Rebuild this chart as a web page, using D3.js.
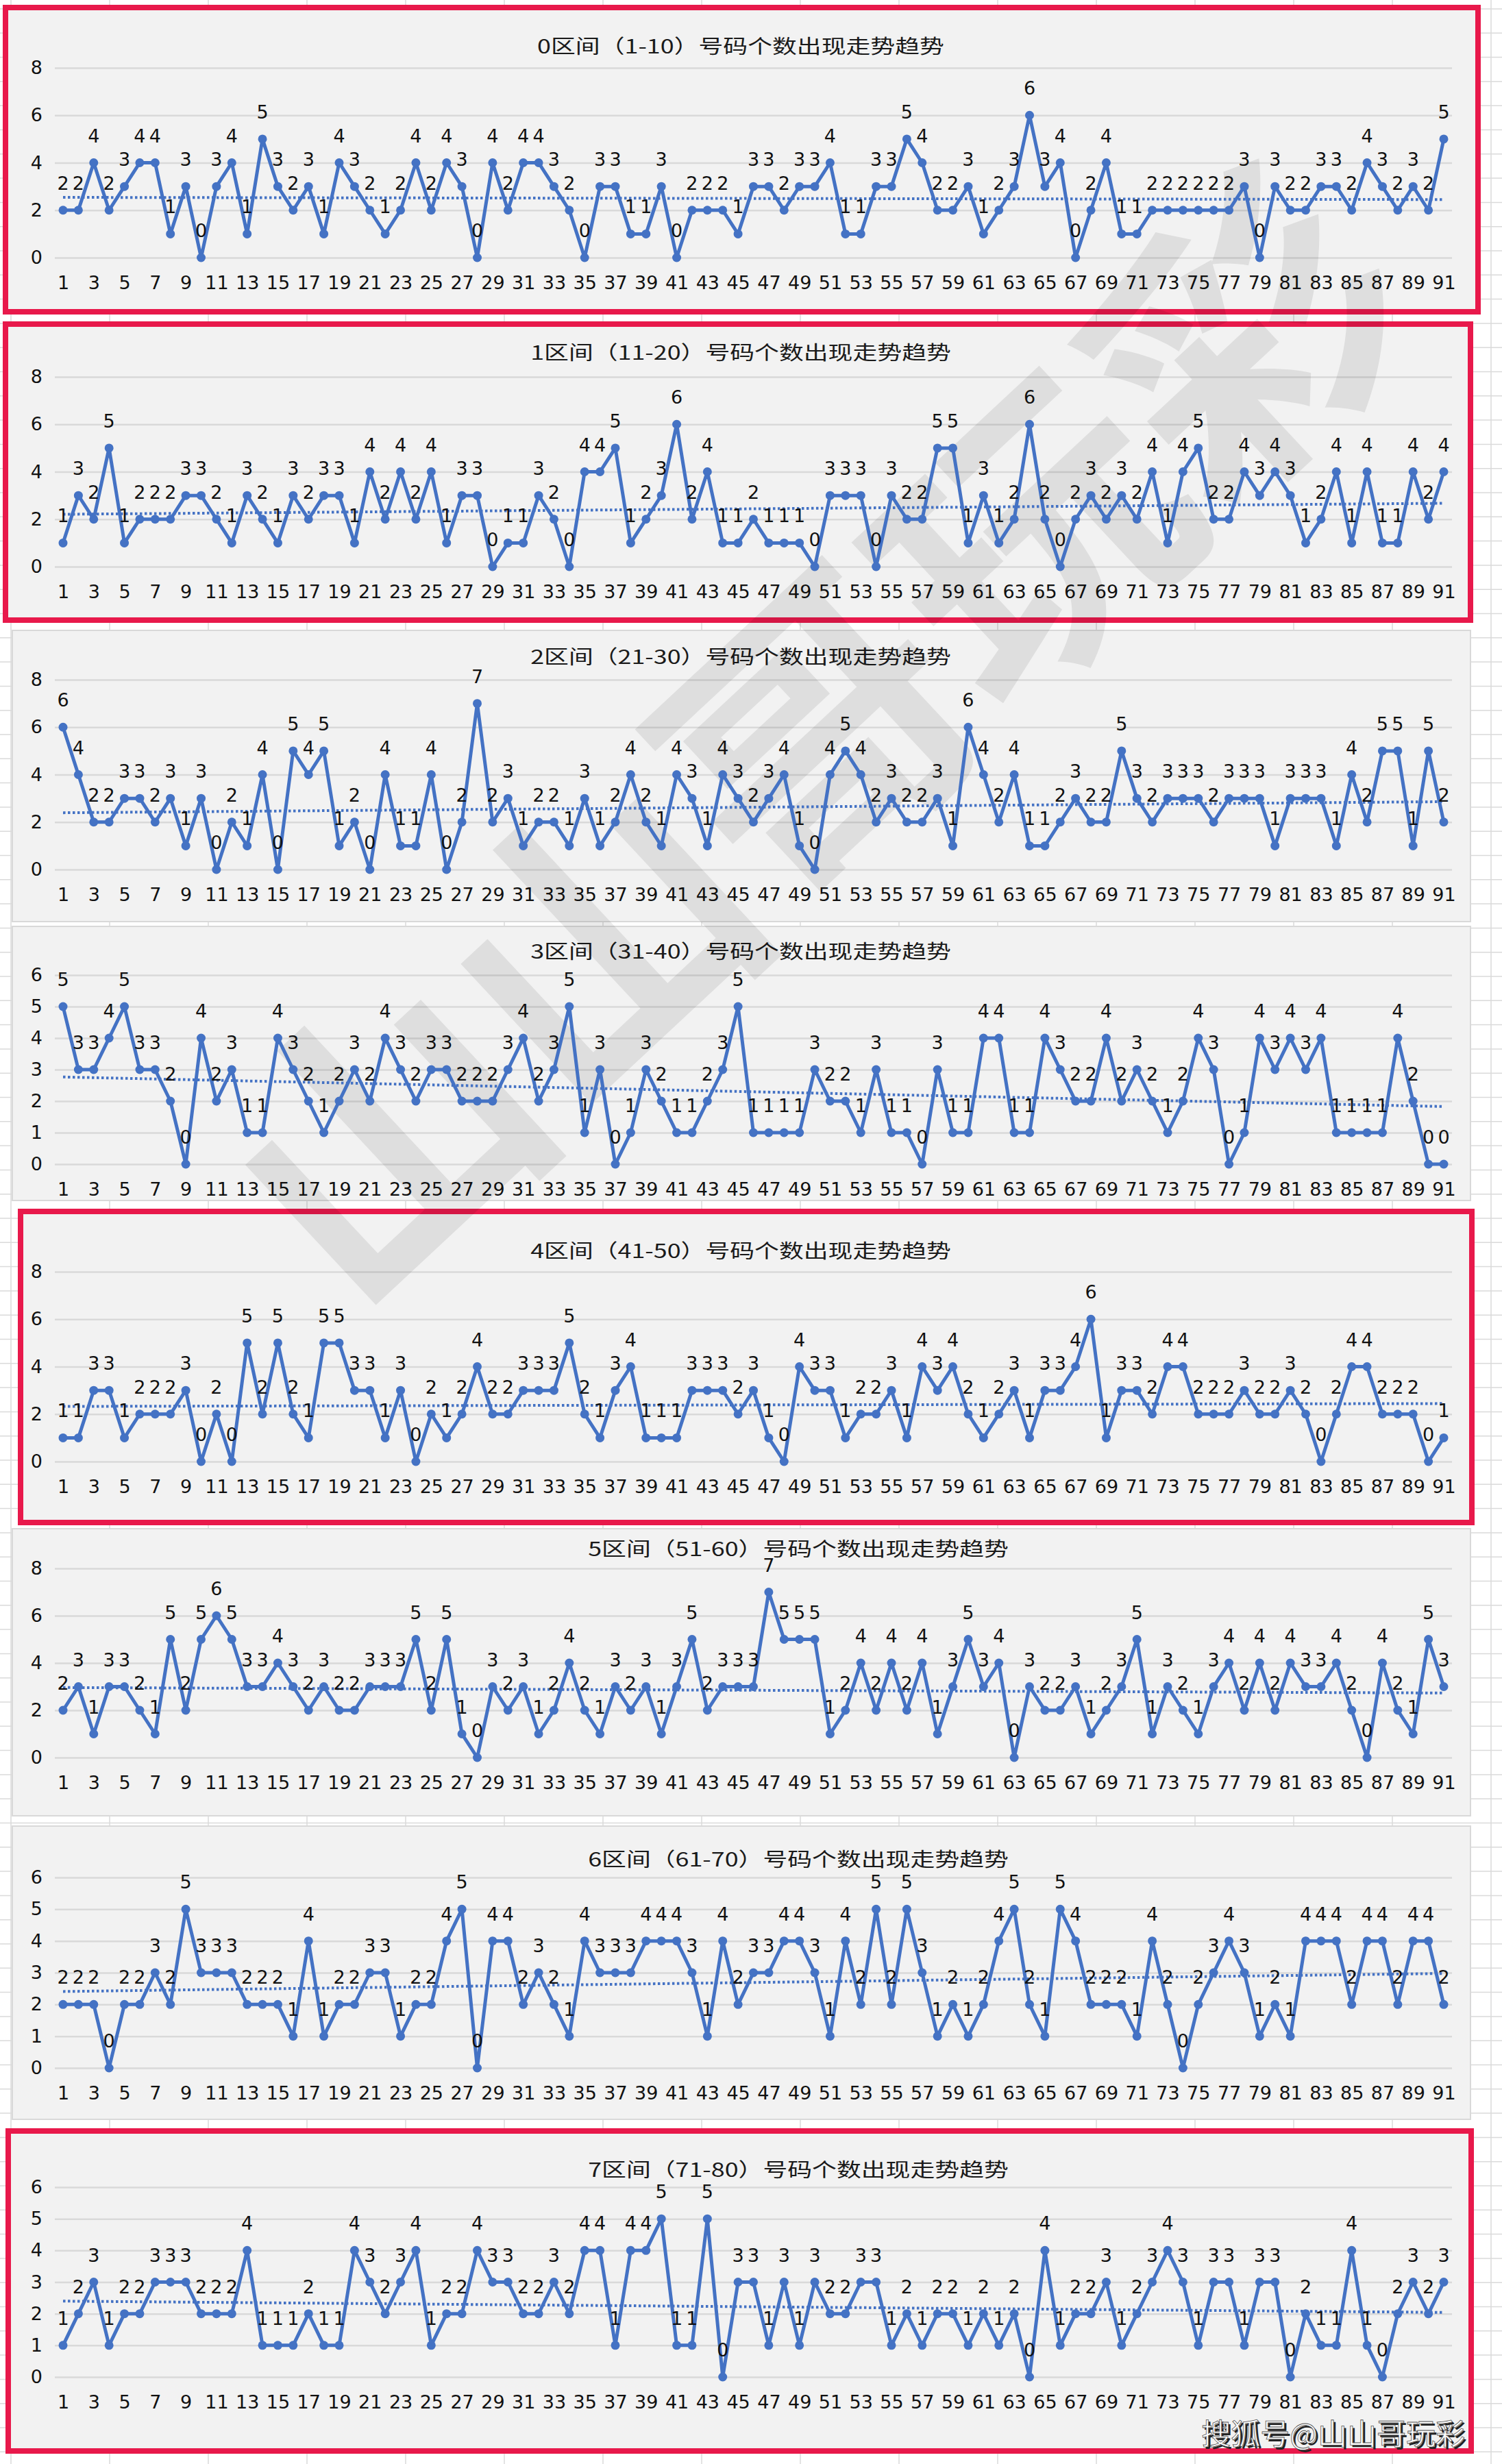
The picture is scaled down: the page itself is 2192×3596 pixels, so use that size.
<!DOCTYPE html>
<html>
<head>
<meta charset="utf-8">
<script src="https://cdn.jsdelivr.net/npm/d3@7"></script>
<style>
  body { margin: 0; background: #fff; }
  svg { display: block; }
</style>
</head>
<body>
<svg id="chart"></svg>
<script>
const W = 2192, H = 3596;

// categories: draw periods 1..91
const periods = d3.range(1, 92);
const xTickLabels = [1, 3, 5, 7, 9, 11, 13, 15, 17, 19, 21, 23, 25, 27, 29, 31, 33, 35, 37, 39, 41, 43, 45,
  47, 49, 51, 53, 55, 57, 59, 61, 63, 65, 67, 69, 71, 73, 75, 77, 79, 81, 83, 85, 87, 89, 91];
const ticks8 = [0, 2, 4, 6, 8];
const ticks6 = [0, 1, 2, 3, 4, 5, 6];

const titles = [
  "0区间（1-10）号码个数出现走势趋势",
  "1区间（11-20）号码个数出现走势趋势",
  "2区间（21-30）号码个数出现走势趋势",
  "3区间（31-40）号码个数出现走势趋势",
  "4区间（41-50）号码个数出现走势趋势",
  "5区间（51-60）号码个数出现走势趋势",
  "6区间（61-70）号码个数出现走势趋势",
  "7区间（71-80）号码个数出现走势趋势"
];

// how many numbers of each zone came out, per draw
const zone0 = [2,2,4,2,3,4,4,1,3,0, 3,4,1,5,3,2,3,1,4,3, 2,1,2,4,2,4,3,0,4,2, 4,4,3,2,0,3,3,1,1,3,
  0,2,2,2,1,3,3,2,3,3, 4,1,1,3,3,5,4,2,2,3, 1,2,3,6,3,4,0,2,4,1, 1,2,2,2,2,2,2,3,0,3, 2,2,3,3,2,4,3,2,3,2, 5];
const zone1 = [1,3,2,5,1,2,2,2,3,3, 2,1,3,2,1,3,2,3,3,1, 4,2,4,2,4,1,3,3,0,1, 1,3,2,0,4,4,5,1,2,3,
  6,2,4,1,1,2,1,1,1,0, 3,3,3,0,3,2,2,5,5,1, 3,1,2,6,2,0,2,3,2,3, 2,4,1,4,5,2,2,4,3,4, 3,1,2,4,1,4,1,1,4,2, 4];
const zone2 = [6,4,2,2,3,3,2,3,1,3, 0,2,1,4,0,5,4,5,1,2, 0,4,1,1,4,0,2,7,2,3, 1,2,2,1,3,1,2,4,2,1,
  4,3,1,4,3,2,3,4,1,0, 4,5,4,2,3,2,2,3,1,6, 4,2,4,1,1,2,3,2,2,5, 3,2,3,3,3,2,3,3,3,1, 3,3,3,1,4,2,5,5,1,5, 2];
const zone3 = [5,3,3,4,5,3,3,2,0,4, 2,3,1,1,4,3,2,1,2,3, 2,4,3,2,3,3,2,2,2,3, 4,2,3,5,1,3,0,1,3,2,
  1,1,2,3,5,1,1,1,1,3, 2,2,1,3,1,1,0,3,1,1, 4,4,1,1,4,3,2,2,4,2, 3,2,1,2,4,3,0,1,4,3, 4,3,4,1,1,1,1,4,2,0, 0];
const zone4 = [1,1,3,3,1,2,2,2,3,0, 2,0,5,2,5,2,1,5,5,3, 3,1,3,0,2,1,2,4,2,2, 3,3,3,5,2,1,3,4,1,1,
  1,3,3,3,2,3,1,0,4,3, 3,1,2,2,3,1,4,3,4,2, 1,2,3,1,3,3,4,6,1,3, 3,2,4,4,2,2,2,3,2,2, 3,2,0,2,4,4,2,2,2,0, 1];
const zone5 = [2,3,1,3,3,2,1,5,2,5, 6,5,3,3,4,3,2,3,2,2, 3,3,3,5,2,5,1,0,3,2, 3,1,2,4,2,1,3,2,3,1,
  3,5,2,3,3,3,7,5,5,5, 1,2,4,2,4,2,4,1,3,5, 3,4,0,3,2,2,3,1,2,3, 5,1,3,2,1,3,4,2,4,2, 4,3,3,4,2,0,4,2,1,5, 3];
const zone6 = [2,2,2,0,2,2,3,2,5,3, 3,3,2,2,2,1,4,1,2,2, 3,3,1,2,2,4,5,0,4,4, 2,3,2,1,4,3,3,3,4,4,
  4,3,1,4,2,3,3,4,4,3, 1,4,2,5,2,5,3,1,2,1, 2,4,5,2,1,5,4,2,2,2, 1,4,2,0,2,3,4,3,1,2, 1,4,4,4,2,4,4,2,4,4, 2];
const zone7 = [1,2,3,1,2,2,3,3,3,2, 2,2,4,1,1,1,2,1,1,4, 3,2,3,4,1,2,2,4,3,3, 2,2,3,2,4,4,1,4,4,5,
  1,1,5,0,3,3,1,3,1,3, 2,2,3,3,1,2,1,2,2,1, 2,1,2,0,4,1,2,2,3,1, 2,3,4,3,1,3,3,1,3,3, 0,2,1,1,4,1,0,2,3,2, 3];

const zones = [zone0, zone1, zone2, zone3, zone4, zone5, zone6, zone7];

// page layout of the 8 stacked charts
const panels = [
  { box: [8, 11, 2157, 455],   red: true,  top: 99,   bottom: 376,  titleX: 1081, titleY: 68,   yMax: 8 },
  { box: [8, 473, 2146, 905],  red: true,  top: 550,  bottom: 827,  titleX: 1081, titleY: 515,  yMax: 8 },
  { box: [18, 920, 2146, 1345], red: false, top: 992,  bottom: 1269, titleX: 1081, titleY: 959,  yMax: 8 },
  { box: [18, 1352, 2146, 1752], red: false, top: 1423, bottom: 1699, titleX: 1081, titleY: 1389, yMax: 6 },
  { box: [30, 1768, 2148, 2222], red: true,  top: 1856, bottom: 2133, titleX: 1081, titleY: 1826, yMax: 8 },
  { box: [18, 2231, 2146, 2650], red: false, top: 2289, bottom: 2565, titleX: 1165, titleY: 2261, yMax: 8 },
  { box: [18, 2665, 2146, 3093], red: false, top: 2740, bottom: 3018, titleX: 1165, titleY: 2714, yMax: 6 },
  { box: [12, 3110, 2147, 3577], red: true,  top: 3192, bottom: 3469, titleX: 1165, titleY: 3167, yMax: 6 }
];

const blue = "#4472c4";
const numFont = "DejaVu Sans";
const cjkFont = "Noto Sans CJK SC";

const svg = d3.select("#chart").attr("width", W).attr("height", H);

// spreadsheet grid behind the charts
const sheet = svg.append("g");
sheet.append("rect").attr("width", W).attr("height", H).attr("fill", "#fff");
d3.range(16, W, 144).forEach(x => {
  sheet.append("line").attr("x1", x).attr("x2", x).attr("y1", 0).attr("y2", H)
    .attr("stroke", "#dadada").attr("stroke-width", 1.5);
});
d3.range(13, H, 35.3).forEach(y => {
  sheet.append("line").attr("x1", 0).attr("x2", W).attr("y1", y).attr("y2", y)
    .attr("stroke", "#dadada").attr("stroke-width", 1.5);
});

const x = d3.scaleLinear().domain([1, 91]).range([92, 2107]);
const gridLeft = 80, gridRight = 2119;

const layers = panels.map(() => null);

// chart frames + grids
panels.forEach((p, k) => {
  const [x0, y0, x1, y1] = p.box;
  const g = svg.append("g");
  g.append("rect")
    .attr("x", x0).attr("y", y0)
    .attr("width", x1 - x0).attr("height", y1 - y0)
    .attr("fill", "#f2f2f2")
    .attr("stroke", p.red ? "#e8194b" : "#d9d9d9")
    .attr("stroke-width", p.red ? 8 : 2);

  const y = d3.scaleLinear().domain([0, p.yMax]).range([p.bottom, p.top]);
  const yTicks = p.yMax === 8 ? ticks8 : ticks6;

  const yAxis = g.append("g")
    .attr("transform", `translate(${gridLeft},0)`)
    .call(d3.axisLeft(y).tickValues(yTicks).tickFormat(d3.format("d"))
      .tickSize(-(gridRight - gridLeft)).tickPadding(18));
  yAxis.select(".domain").remove();
  yAxis.selectAll("line").attr("stroke", "#d9d9d9").attr("stroke-width", 2.5);
  yAxis.selectAll("text").attr("font-family", numFont).attr("font-size", 27).attr("fill", "#111");

  const xAxis = g.append("g")
    .attr("transform", `translate(0,${p.bottom})`)
    .call(d3.axisBottom(x).tickValues(xTickLabels).tickFormat(d3.format("d"))
      .tickSize(0).tickPadding(27));
  xAxis.select(".domain").remove();
  xAxis.selectAll("text").attr("font-family", numFont).attr("font-size", 27).attr("fill", "#111");

  const title = g.append("text")
    .attr("x", p.titleX).attr("y", p.titleY)
    .attr("dy", "0.36em")
    .attr("text-anchor", "middle")
    .attr("font-family", cjkFont)
    .attr("font-size", 28)
    .attr("fill", "#1a1a1a")
    .text(titles[k]);
  const len = title.node().getComputedTextLength();
  title.attr("textLength", len * 1.28).attr("lengthAdjust", "spacingAndGlyphs");

  layers[k] = { g, y };
});

// big diagonal watermark
svg.append("text")
  .attr("transform", "translate(1195,1080) rotate(-43)")
  .attr("text-anchor", "middle")
  .attr("dy", "0.36em")
  .attr("font-family", cjkFont)
  .attr("font-weight", "bold")
  .attr("font-size", 430)
  .attr("fill", "#000")
  .attr("opacity", 0.08)
  .text("山山哥玩彩");

// series: line, trend, markers, labels
panels.forEach((p, k) => {
  const { y } = layers[k];
  const values = zones[k];
  const g = svg.append("g");

  // linear trend (least squares) like the spreadsheet's trendline
  const mx = d3.mean(periods), my = d3.mean(values);
  const slope = d3.sum(periods, (t, i) => (t - mx) * (values[i] - my)) /
                d3.sum(periods, t => (t - mx) * (t - mx));
  const icpt = my - slope * mx;
  g.append("line")
    .attr("x1", x(1)).attr("x2", x(91))
    .attr("y1", y(icpt + slope * 1)).attr("y2", y(icpt + slope * 91))
    .attr("stroke", blue)
    .attr("stroke-width", 4)
    .attr("stroke-dasharray", "3.5,3.5");

  const line = d3.line()
    .x((d, i) => x(periods[i]))
    .y(d => y(d));

  g.append("path")
    .datum(values)
    .attr("fill", "none")
    .attr("stroke", blue)
    .attr("stroke-width", 5)
    .attr("stroke-linejoin", "round")
    .attr("d", line);

  g.selectAll("circle")
    .data(values)
    .enter()
    .append("circle")
    .attr("cx", (d, i) => x(periods[i]))
    .attr("cy", d => y(d))
    .attr("r", 6.5)
    .attr("fill", blue);

  g.selectAll("text.lbl")
    .data(values)
    .enter()
    .append("text")
    .attr("class", "lbl")
    .attr("x", (d, i) => x(periods[i]))
    .attr("y", d => y(d) - 30)
    .attr("text-anchor", "middle")
    .attr("font-family", numFont)
    .attr("font-size", 27)
    .attr("fill", "#111")
    .text(d => d);
});

// source mark, bottom right
const mark = "搜狐号@山山哥玩彩";
svg.append("text")
  .attr("x", 2141).attr("y", 3571)
  .attr("text-anchor", "end")
  .attr("font-family", cjkFont)
  .attr("font-size", 43)
  .attr("fill", "#222")
  .text(mark);
svg.append("text")
  .attr("x", 2138).attr("y", 3568)
  .attr("text-anchor", "end")
  .attr("font-family", cjkFont)
  .attr("font-size", 43)
  .attr("fill", "#fff")
  .attr("stroke", "#555")
  .attr("stroke-width", 0.8)
  .text(mark);
</script>
</body>
</html>
